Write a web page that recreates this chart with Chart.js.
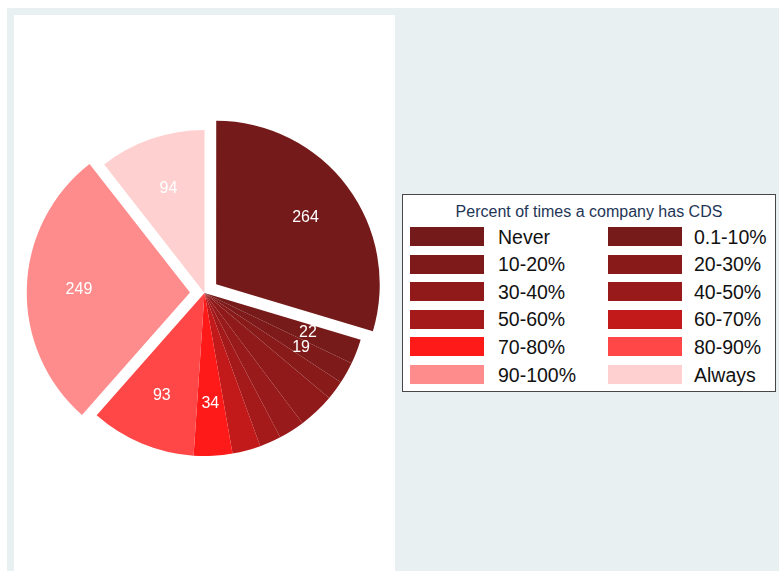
<!DOCTYPE html>
<html lang="en">
<head>
    <meta charset="UTF-8">
    <title>Percent of times a company has CDS</title>
    <style>
        body {
            margin: 0;
            background: #ffffff;
            font-family: "Liberation Sans", Arial, sans-serif;
            width: 779px;
            height: 571px;
            overflow: hidden;
            position: relative;
        }
        .backdrop {
            position: absolute;
            left: 7px;
            top: 8px;
            right: 0;
            bottom: 0;
            background: #e9f0f2;
        }
        .plot-panel {
            position: absolute;
            left: 14px;
            top: 15px;
            width: 381px;
            height: 556px;
            background: #ffffff;
        }
        .legend {
            position: absolute;
            left: 402px;
            top: 194px;
            width: 374px;
            height: 198px;
            box-sizing: border-box;
            border: 1.5px solid #474747;
            background: #ffffff;
        }
        .legend-title {
            position: absolute;
            left: 0;
            right: 0;
            top: 7px;
            text-align: center;
            font-size: 16px;
            line-height: 20px;
            color: #1e3656;
        }
        .legend-key {
            position: absolute;
            width: 74px;
            height: 19px;
        }
        .legend-text {
            position: absolute;
            font-size: 19.5px;
            line-height: 22px;
            color: #111111;
            white-space: nowrap;
        }
    </style>
</head>
<body>
    <div class="backdrop"></div>
    <div class="plot-panel">
        <canvas id="chart" width="381" height="556"></canvas>
    </div>
    <div class="legend" id="legend">
        <div class="legend-title">Percent of times a company has CDS</div>
    </div>

    <script src="https://cdn.jsdelivr.net/npm/chart.js@4.4.0/dist/chart.umd.js"></script>
    <script>
        // Slice categories, in drawing order (clockwise from 12 o'clock)
        const categories = ['Never', '0.1-10%', '10-20%', '20-30%', '30-40%', '40-50%',
                            '50-60%', '60-70%', '70-80%', '80-90%', '90-100%', 'Always'];
        // Number of companies in each category
        const counts = [264, 22, 19, 17, 32, 23, 19, 25, 34, 93, 249, 94];
        // Which slices carry a value label
        const labelled = [true, true, true, false, false, false, false, false, true, true, true, true];
        // Pulled-out slices
        const exploded = [true, false, false, false, false, false, false, false, false, false, true, false];
        const sliceColors = ['#741a1a', '#771a1a', '#7e1a1a', '#881a1a', '#901a1a', '#981a1a',
                             '#a41a1a', '#c21a1a', '#ff1a1a', '#ff4747', '#ff8c8c', '#ffd0d0'];

        // Chart.js moves an arc by roughly offset/4, so 58 gives ~15px
        const pullOut = 58;
        const sliceOffsets = exploded.map(e => e ? pullOut : 0);

        // Same shift the arc element applies when drawing with an offset
        function arcShift(offset, circumference) {
            const fix = 1 - Math.sin(Math.min(Math.PI, circumference || 0));
            return offset / 4 * (1 + fix);
        }

        // Write the value inside each labelled slice
        const sliceLabels = {
            id: 'sliceLabels',
            afterDatasetsDraw(chart) {
                const ctx = chart.ctx;
                const arcs = chart.getDatasetMeta(0).data;
                ctx.save();
                ctx.fillStyle = '#ffffff';
                ctx.font = '16px "Liberation Sans", Arial, sans-serif';
                ctx.textAlign = 'center';
                ctx.textBaseline = 'middle';
                arcs.forEach((arc, i) => {
                    if (!labelled[i]) return;
                    const p = arc.getProps(['x', 'y', 'startAngle', 'endAngle', 'outerRadius', 'circumference'], true);
                    const mid = (p.startAngle + p.endAngle) / 2;
                    const r = p.outerRadius * 0.68 + arcShift(sliceOffsets[i], p.circumference);
                    ctx.fillText(String(counts[i]), p.x + Math.cos(mid) * r, p.y + Math.sin(mid) * r);
                });
                ctx.restore();
            }
        };

        function createChart() {
            const ctx = document.getElementById('chart').getContext('2d');
            new Chart(ctx, {
                type: 'pie',
                data: {
                    labels: categories,
                    datasets: [{
                        data: counts,
                        backgroundColor: sliceColors,
                        borderWidth: 0,
                        offset: sliceOffsets
                    }]
                },
                options: {
                    responsive: false,
                    animation: false,
                    radius: 163,
                    layout: { padding: 0 },
                    plugins: {
                        legend: { display: false },
                        tooltip: { enabled: false }
                    }
                },
                plugins: [sliceLabels]
            });
        }

        // Two-column legend below the title
        function createLegend() {
            const box = document.getElementById('legend');
            categories.forEach((name, i) => {
                const row = Math.floor(i / 2);
                const col = i % 2;
                const top = 32 + row * 27.6;
                const key = document.createElement('div');
                key.className = 'legend-key';
                key.style.left = (7 + col * 198) + 'px';
                key.style.top = top + 'px';
                key.style.background = sliceColors[i];
                box.appendChild(key);

                const text = document.createElement('div');
                text.className = 'legend-text';
                text.style.left = (95 + col * 196) + 'px';
                text.style.top = (top - 1.5) + 'px';
                text.textContent = name;
                box.appendChild(text);
            });
        }

        createChart();
        createLegend();
    </script>
</body>
</html>
